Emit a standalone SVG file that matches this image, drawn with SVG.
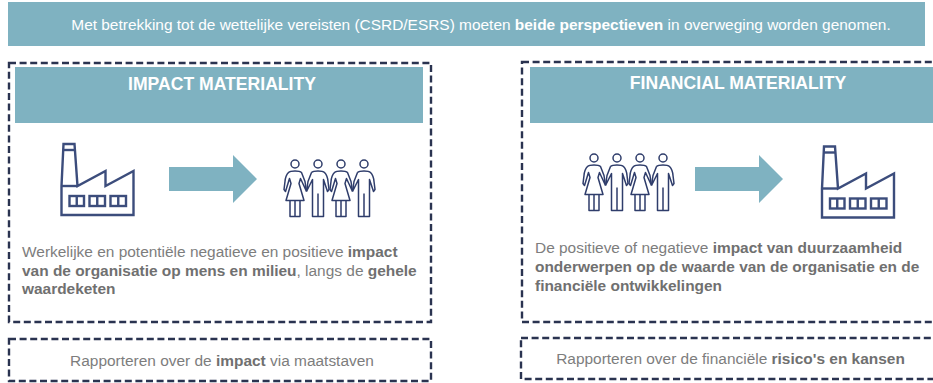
<svg xmlns="http://www.w3.org/2000/svg" xmlns:xlink="http://www.w3.org/1999/xlink" width="933" height="383" viewBox="0 0 933 383">
<style>
text{font-family:"Liberation Sans",Arial,sans-serif}
.b{fill:#7fb2c1}
.d{fill:none;stroke:#2a3350;stroke-width:2.4;stroke-dasharray:7 3.6}
.t{fill:#fff;font-weight:700;font-size:17.6px;text-anchor:middle}
.p{fill:#7d7d7d;font-size:15.45px;font-weight:400}
.r{fill:#7d7d7d;font-size:15.45px;text-anchor:middle}
.s{font-weight:700;fill:#707070}
.ic{fill:none;stroke:#3c4d7c;stroke-width:2.4}
.pp{fill:none;stroke:#2f3d6b;stroke-width:1.5;stroke-linejoin:round}
</style>
<defs>
<g id="factory" class="ic">
<path d="M0 72V43L2 1H13L16 43L44 28V43L72 28V72Z"/>
<path d="M2 7H13"/><path d="M0 43H16"/>
<rect x="8" y="53" width="14.500" height="10"/><rect x="28" y="53" width="15.500" height="10"/><rect x="49" y="53" width="15.500" height="10"/>
<path d="M15.250 53V63M35.750 53V63M56.750 53V63"/>
</g>
<g id="woman"><circle cx="11" cy="4.500" r="4"/><path d="M4.500 13Q6 11.500 11 11.500Q16 11.500 17.500 13L21 22L22.500 32M4.500 13Q1.500 16 1 22L0 30L1.500 32L5.500 19L7 24L2 41H20L15 24L16.500 19L22.500 32M6 41V57H16V41M11 41V57"/></g>
<g id="man"><circle cx="11" cy="4.500" r="4"/><path d="M4.500 13Q6 11.500 11 11.500Q16 11.500 17.500 13Q20.500 16 21 22L22 30L20.500 32L16.500 20V57H5.500V20L-0.500 32M4.500 13L1 22L-0.500 32M11 34V57"/></g>
<g id="people" class="pp">
<use xlink:href="#woman" x="0"/><use xlink:href="#man" x="23"/><use xlink:href="#woman" x="46"/><use xlink:href="#man" x="69"/>
</g>
<path id="arrow" class="b" d="M0 12H64V0L88 24L64 48V36H0Z"/>
</defs>
<g id="banner"><rect x="8" y="2" width="917" height="44" class="b"/>
<text x="481" y="29.500" fill="#fff" font-size="15.450" text-anchor="middle">Met betrekking tot de wettelijke vereisten (CSRD/ESRS) moeten <tspan font-weight="700">beide perspectieven</tspan> in overweging worden genomen.</text></g>
<g id="impact">
<rect x="9" y="63" width="422" height="259" class="d"/>
<rect x="15" y="67" width="408" height="56" class="b"/>
<text x="222" y="90" class="t">IMPACT MATERIALITY</text>
<use xlink:href="#factory" x="61.500" y="143"/>
<use xlink:href="#people" x="284" y="159.500"/>
<text class="p"><tspan x="22" y="257">Werkelijke en potentiële negatieve en positieve <tspan class="s">impact</tspan></tspan><tspan x="22" y="275.500" class="s">van de organisatie op mens en milieu<tspan class="p">, langs de </tspan>gehele</tspan><tspan x="22" y="294" class="s">waardeketen</tspan></text>
</g>
<g id="financial">
<rect x="522" y="62" width="430" height="260" class="d"/>
<rect x="530" y="67" width="403" height="56" class="b"/>
<text x="738" y="89" class="t">FINANCIAL MATERIALITY</text>
<use xlink:href="#people" x="583" y="153.500"/>
<use xlink:href="#factory" x="822" y="145.500"/>
<text class="p"><tspan x="535" y="253">De positieve of negatieve <tspan class="s">impact van duurzaamheid</tspan></tspan><tspan x="535" y="272" class="s">onderwerpen op de waarde van de organisatie en de</tspan><tspan x="535" y="291" class="s">financiële ontwikkelingen</tspan></text>
</g>
<g id="report-impact"><rect x="9" y="339" width="422" height="42" class="d"/>
<text x="222" y="366" class="r">Rapporteren over de <tspan class="s">impact</tspan> via maatstaven</text></g>
<g id="report-financial"><rect x="521" y="338" width="430" height="41" class="d"/>
<text x="730.500" y="364" class="r">Rapporteren over de financiële <tspan class="s">risico's en kansen</tspan></text></g>
<g id="connectors">
<use xlink:href="#arrow" x="169" y="155"/>
<use xlink:href="#arrow" x="695" y="155"/>
</g>
</svg>
